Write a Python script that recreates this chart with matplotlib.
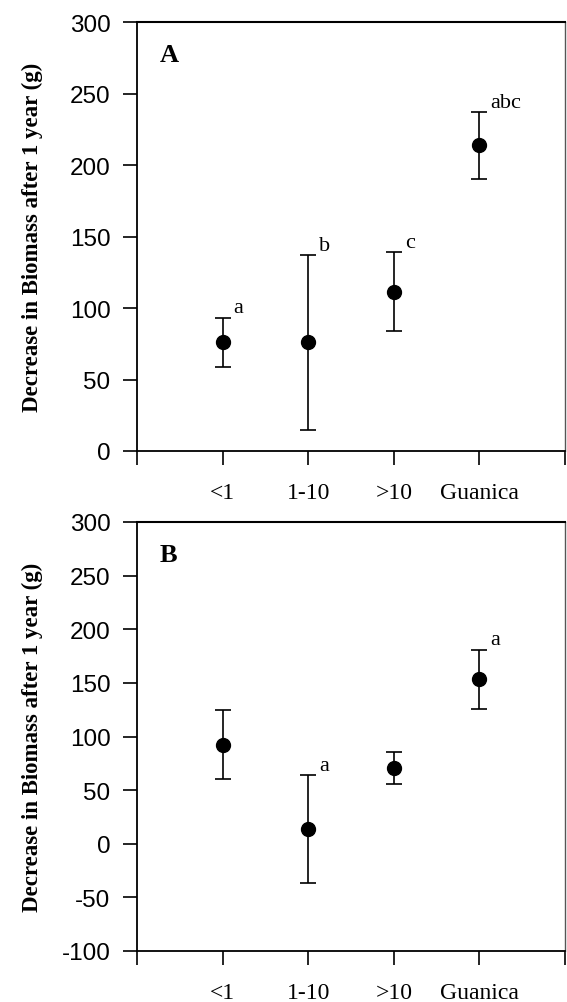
import numpy as np
import matplotlib
matplotlib.use("Agg")
import matplotlib.pyplot as plt

plt.rcParams["axes.unicode_minus"] = False

# 数据
categories = ["<1", "1-10", ">10", "Guanica"]

mean_a = [76, 76, 111, 214]
low_a = [59, 15, 84, 190]
high_a = [93, 137, 139, 237]
sig_a = ["a", "b", "c", "abc"]

mean_b = [92, 14, 71, 154]
low_b = [60, -37, 56, 126]
high_b = [125, 64, 86, 181]
sig_b = ["", "a", "", "a"]

ylabel = "Decrease in Biomass after 1 year (g)"
sans = ["Liberation Sans", "DejaVu Sans"]
serif = ["Liberation Serif", "DejaVu Serif"]


def draw_panel(ax, mean, low, high, sig, letter, ylim):
    x = np.arange(1, len(categories) + 1)
    mean = np.array(mean)
    yerr = [mean - np.array(low), np.array(high) - mean]
    ax.errorbar(x, mean, yerr=yerr, fmt="o", color="black", ms=10,
                elinewidth=1.2, capsize=5.5, capthick=1.2)
    for xi, hi, s in zip(x, high, sig):
        if s:
            ax.annotate(s, (xi, hi), xytext=(8, 4), textcoords="offset points",
                        ha="left", va="baseline", fontsize=16, family=serif)

    ax.set_xlim(0, 5)
    ax.set_ylim(*ylim)
    ax.set_yticks(np.arange(ylim[0], ylim[1] + 1, 50))
    ax.set_xticks(np.arange(0, 6))
    ax.set_xticklabels([""] + categories + [""], family=serif, fontsize=17)
    for lab in ax.get_yticklabels():
        lab.set_family(sans)
        lab.set_fontsize(17.5)
    ax.tick_params(axis="both", direction="out", length=10, width=1.2)
    ax.tick_params(axis="y", pad=9)
    ax.tick_params(axis="x", pad=12)
    ax.spines["left"].set_linewidth(1.3)
    ax.spines["bottom"].set_linewidth(1.3)
    ax.spines["top"].set_linewidth(1.5)
    ax.spines["right"].set_linewidth(1.0)
    ax.spines["right"].set_color("#555555")
    ax.set_ylabel(ylabel, family=serif, fontweight="bold", fontsize=16.5)
    ax.yaxis.set_label_coords(-0.219, 0.5)
    ax.text(0.054, 0.909, letter, transform=ax.transAxes, family=serif,
            fontweight="bold", fontsize=19, ha="left", va="baseline")


fig = plt.figure(figsize=(5.67, 10.03), dpi=100)
ax_a = fig.add_axes([137 / 567, 1 - 452 / 1003, 428 / 567, 429 / 1003])
ax_b = fig.add_axes([137 / 567, 1 - 952 / 1003, 428 / 567, 429 / 1003])

draw_panel(ax_a, mean_a, low_a, high_a, sig_a, "A", (0, 300))
draw_panel(ax_b, mean_b, low_b, high_b, sig_b, "B", (-100, 300))

fig.savefig("out.png", dpi=100)
